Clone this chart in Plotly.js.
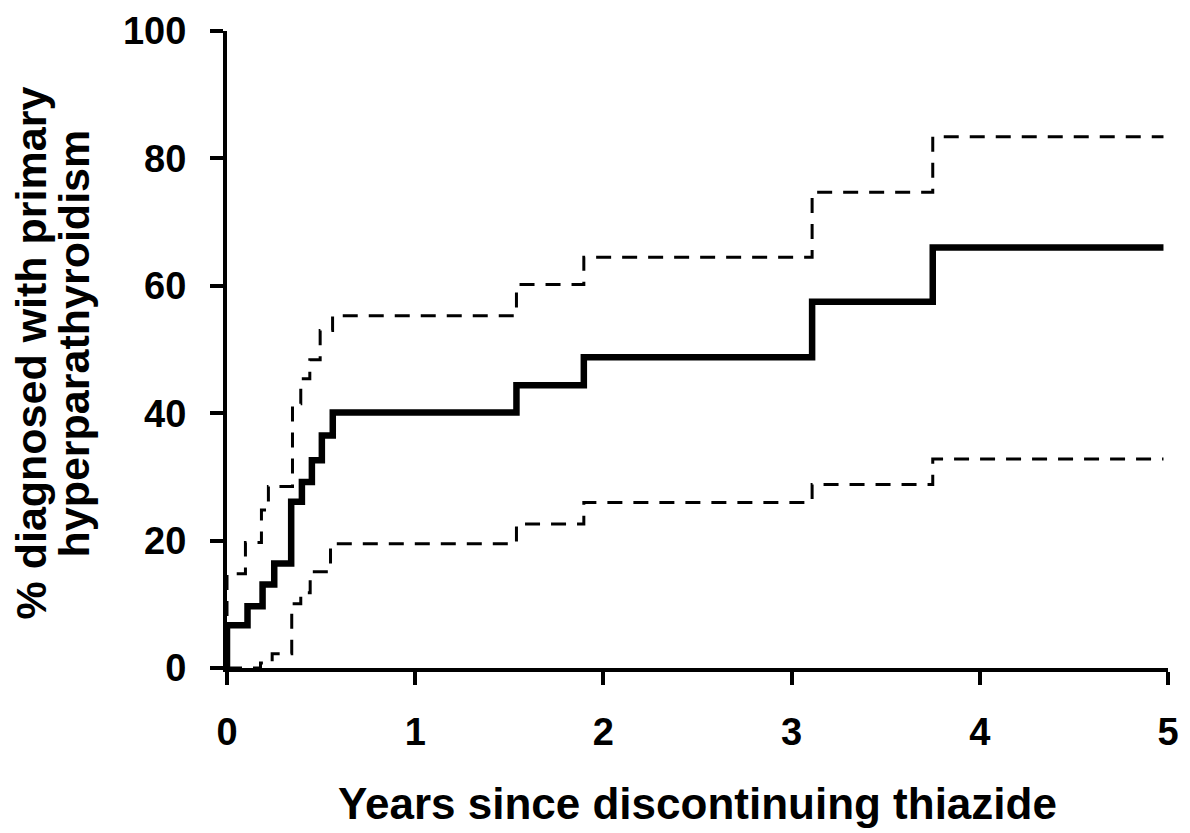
<!DOCTYPE html>
<html>
<head>
<meta charset="utf-8">
<script src="https://cdn.plot.ly/plotly-3.0.1.min.js"></script>
<style>html,body{margin:0;padding:0;background:#fff;}#chart{width:1190px;height:833px;}</style>
</head>
<body>
<div id="chart"></div>
<script>
// Kaplan-Meier estimate (solid) and 95% CI (dashed), step functions
const estYears = [0, 0, 0.109, 0.189, 0.251, 0.341, 0.398, 0.451, 0.504, 0.562, 1.538, 1.896, 3.109, 3.75, 4.976];
const estPct   = [0, 6.7, 9.7, 13.1, 16.4, 26.1, 29.2, 32.6, 36.5, 40.1, 44.4, 48.8, 57.5, 66.0, 66.0];

const upperYears = [0, 0, 0.098, 0.183, 0.22, 0.348, 0.392, 0.44, 0.495, 0.561, 1.538, 1.896, 3.109, 3.75, 4.976];
const upperPct   = [0, 14.8, 19.7, 24.8, 28.5, 41.5, 45.4, 48.4, 53.0, 55.3, 60.2, 64.5, 74.7, 83.4, 83.4];

const lowerYears = [0, 0.178, 0.24, 0.344, 0.392, 0.442, 0.55, 1.538, 1.896, 3.109, 3.75, 4.976];
const lowerPct   = [0, 0.8, 2.25, 10.1, 11.8, 15.1, 19.5, 22.6, 26.0, 28.8, 32.8, 32.8];

const xTicks = [0, 1, 2, 3, 4, 5];
const yTicks = [0, 20, 40, 60, 80, 100];

const xTitle = 'Years since discontinuing thiazide';
const yTitleLines = ['% diagnosed with primary', 'hyperparathyroidism'];

const dashed = {color: '#000', width: 3, dash: '15px,11px', shape: 'hv'};

const traces = [
  {x: upperYears, y: upperPct, mode: 'lines', line: dashed, hoverinfo: 'skip'},
  {x: lowerYears, y: lowerPct, mode: 'lines', line: dashed, hoverinfo: 'skip'},
  {x: estYears, y: estPct, mode: 'lines', line: {color: '#000', width: 6.5, shape: 'hv'}}
];

const fontFam = 'Liberation Sans, Arial, sans-serif';
const titleFont = {family: fontFam, size: 43, color: '#000', weight: 'bold'};
const layout = {
  width: 1190, height: 833,
  margin: {l: 227, r: 22, t: 31, b: 165},
  paper_bgcolor: '#fff', plot_bgcolor: '#fff',
  showlegend: false,
  xaxis: {
    range: [0, 5], tickvals: xTicks, ticktext: xTicks.map(String),
    showgrid: false, zeroline: false, showline: true, linecolor: '#000', linewidth: 4,
    ticks: 'outside', ticklen: 13, tickwidth: 4, tickcolor: '#000',
    tickfont: {family: fontFam, size: 38, color: '#000', weight: 'bold'},
    ticklabelstandoff: 14,
    title: {text: xTitle, font: {family: fontFam, size: 44, color: '#000', weight: 'bold'}, standoff: 38}
  },
  yaxis: {
    range: [0, 100], tickvals: yTicks, ticktext: yTicks.map(String),
    showgrid: false, zeroline: false, showline: true, linecolor: '#000', linewidth: 4,
    ticks: 'outside', ticklen: 13, tickwidth: 4, tickcolor: '#000',
    tickfont: {family: fontFam, size: 38, color: '#000', weight: 'bold'},
    ticklabelstandoff: 16
  },
  annotations: [
    {text: yTitleLines[0], xref: 'paper', yref: 'paper', x: 0, y: 0.5, xanchor: 'center', yanchor: 'middle',
     xshift: -197, yshift: -4, textangle: -90, showarrow: false, font: titleFont},
    {text: yTitleLines[1], xref: 'paper', yref: 'paper', x: 0, y: 0.5, xanchor: 'center', yanchor: 'middle',
     xshift: -154, yshift: 6, textangle: -90, showarrow: false, font: titleFont}
  ]
};

Plotly.newPlot('chart', traces, layout, {displayModeBar: false, staticPlot: true});
</script>
</body>
</html>
